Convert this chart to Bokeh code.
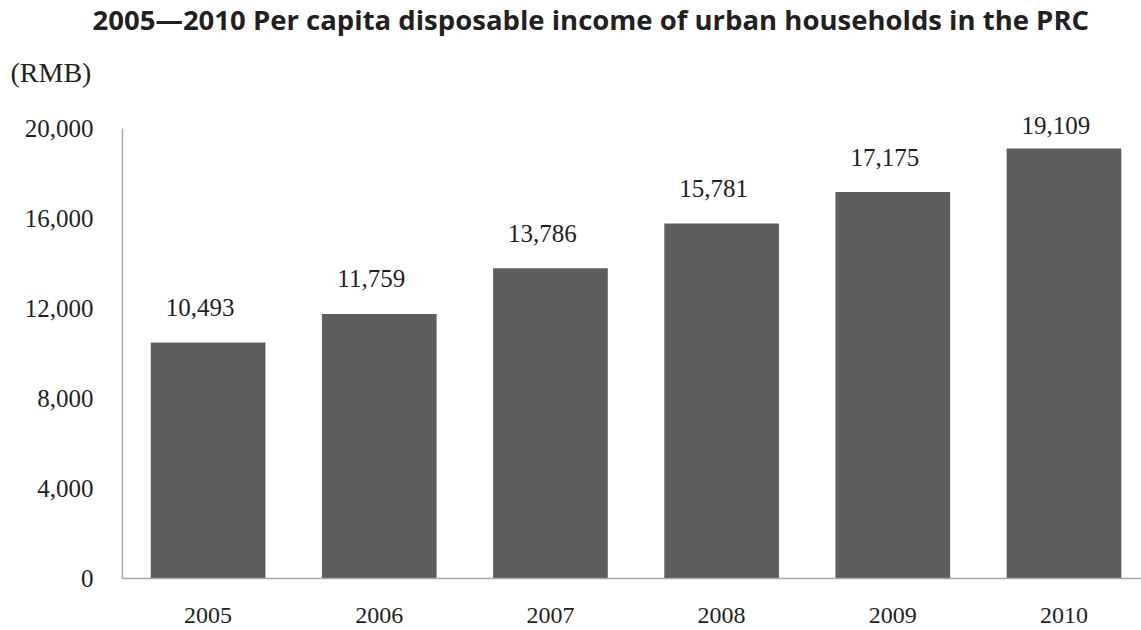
from bokeh.plotting import figure
from bokeh.models import ColumnDataSource, Range1d, FixedTicker, NumeralTickFormatter, Title
from bokeh.core.properties import value
from bokeh.embed import file_html
from bokeh.resources import INLINE

years = ["2005", "2006", "2007", "2008", "2009", "2010"]
income = [10493, 11759, 13786, 15781, 17175, 19109]
income_labels = ["10,493", "11,759", "13,786", "15,781", "17,175", "19,109"]
y_ticks = [0, 4000, 8000, 12000, 16000, 20000]

title_text = "2005\u20142010 Per capita disposable income of urban households in the PRC"
unit_text = "(RMB)"

positions = list(range(1, len(years) + 1))
label_offsets = [-35, -35, -35, -35, -35, -23]

src = ColumnDataSource(dict(x=positions, top=income, lab=income_labels, yoff=label_offsets))

TEXT = "#231f20"
AXIS = "#a6a6a6"
BAR = "#5d5d5f"

FRAME_TOP = 114
FRAME_BOTTOM = 52
PLOT_H = 630 - FRAME_TOP - FRAME_BOTTOM
AXIS_PX = 450  # pixel length of the 0..20000 axis span
y_end = y_ticks[-1] * PLOT_H / AXIS_PX

p = figure(width=1141, height=630, output_backend="svg", toolbar_location=None,
           x_range=Range1d(0.5, 6.453), y_range=Range1d(0, y_end),
           min_border_left=122, min_border_right=0, min_border_top=FRAME_TOP,
           min_border_bottom=FRAME_BOTTOM)
p.outline_line_color = None
p.xgrid.grid_line_color = None
p.ygrid.grid_line_color = None
p.background_fill_color = "white"
p.border_fill_color = "white"

p.vbar(x="x", top="top", bottom=0, width=0.67, source=src, fill_color=BAR, line_color=None)
p.text(x="x", y="top", text="lab", source=src, y_offset="yoff", x_offset=-8,
       text_align="center", text_baseline="alphabetic",
       text_font=value("Liberation Serif"), text_font_size="25px", text_color=TEXT)

for ax in (p.xaxis[0], p.yaxis[0]):
    ax.axis_line_color = AXIS
    ax.axis_line_width = 1.5
    ax.major_tick_line_color = None
    ax.minor_tick_line_color = None
    ax.major_label_text_font = "Liberation Serif"
    ax.major_label_text_color = TEXT

p.xaxis.ticker = FixedTicker(ticks=positions)
p.xaxis.major_label_overrides = {pos: yr for pos, yr in zip(positions, years)}
p.xaxis.major_label_standoff = 23
p.xaxis.major_label_text_font_size = "24px"
p.yaxis.ticker = FixedTicker(ticks=y_ticks)
p.yaxis.formatter = NumeralTickFormatter(format="0,0")
p.yaxis.major_label_standoff = 23
p.yaxis.major_label_text_font_size = "25px"
p.yaxis.bounds = (y_ticks[0], y_ticks[-1])

p.add_layout(Title(text=unit_text, align="left", offset=-112,
                   text_font="Liberation Serif", text_font_style="normal",
                   text_font_size="28px", text_color=TEXT, standoff=54), "above")
p.title.text = title_text
p.title.align = "left"
p.title.offset = -30
p.title.standoff = -21
p.title.text_font = "Open Sans"
p.title.text_font_style = "bold"
p.title.text_font_size = "27.5px"
p.title.text_color = TEXT

open("out.html", "w").write(file_html(p, INLINE))
